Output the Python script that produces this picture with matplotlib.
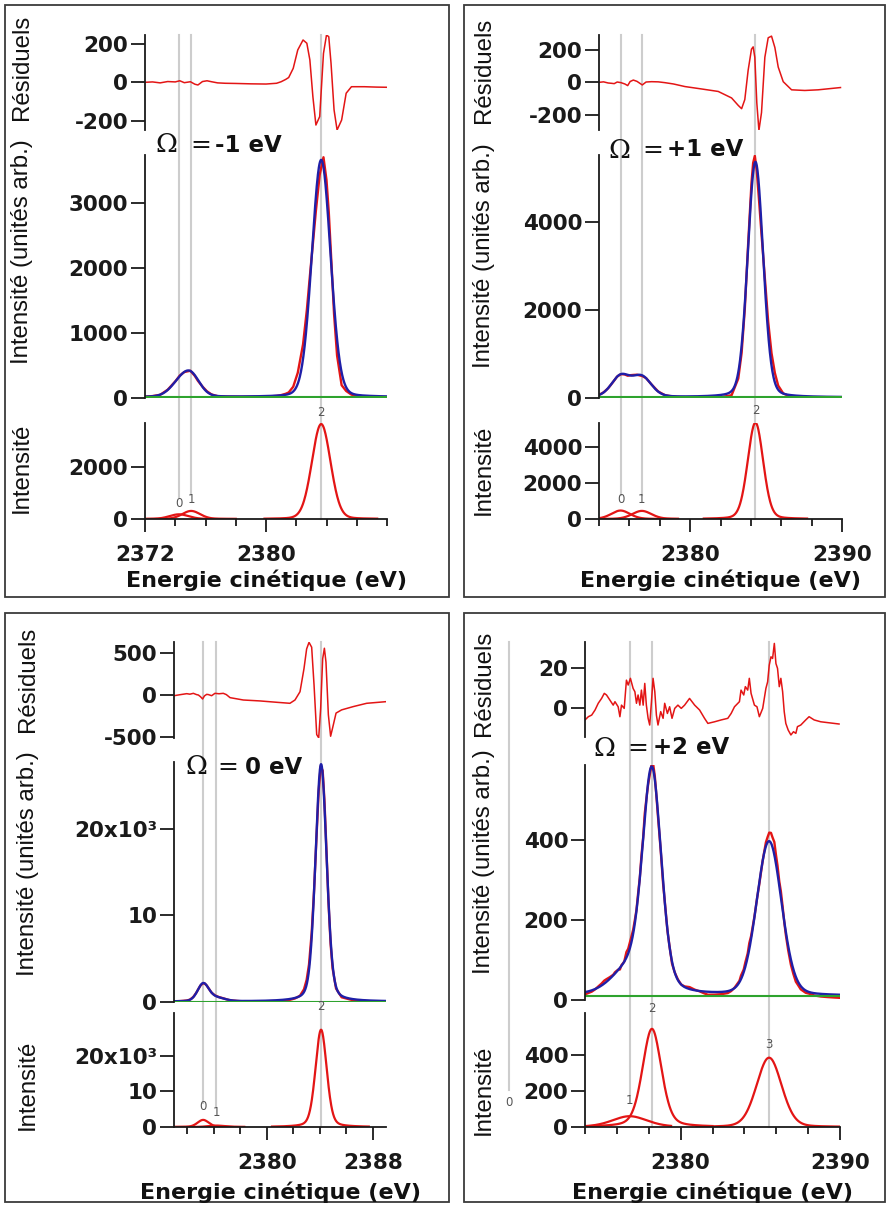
import numpy as np
import matplotlib
matplotlib.use("Agg")
import matplotlib.pyplot as plt
from matplotlib.lines import Line2D
from matplotlib.patches import Rectangle

# ============================ DATA ============================
# ---- Panel A : Omega = -1 eV
a_omega = "-1 eV"
a_res_E = [2372.0, 2372.5, 2373.0, 2373.5, 2374.0, 2374.3, 2374.6, 2375.0, 2375.3, 2375.5,
           2375.8, 2376.1, 2376.4, 2376.8, 2377.3, 2378.0, 2379.0, 2380.0, 2380.7, 2381.0,
           2381.3, 2381.5, 2381.8, 2382.1, 2382.45, 2382.7, 2382.9, 2383.1, 2383.3, 2383.55,
           2383.8, 2384.0, 2384.15, 2384.3, 2384.5, 2384.7, 2385.0, 2385.3, 2385.65, 2386.5,
           2387.3, 2388.0]
a_res_v = [0, 2, -3, 4, 2, 8, -2, 3, -10, -14, 4, 8, 3, -3, -5, -6, -8, -9, -5, 3,
           15, 25, 73, 169, 221, 204, 117, -75, -223, -179, 151, 247, 238, 99, -144, -249,
           -197, -57, -23, -23, -25, -26]
a_ref_ids = ["0", "1", "2"]
a_ref_E = [2374.25, 2375.05, 2383.65]
a_peak_E = [2374.25, 2375.05, 2383.65]
a_peak_h = [180, 310, 3650]
a_peak_w = [1.5, 1.4, 1.45]
a_peak_eta = [0.15, 0.15, 0.1]
a_peak_lo = [2372.0, 2372.0, 2379.9]
a_peak_hi = [2378.0, 2378.0, 2387.35]
a_baseline = 15
a_res_ticks = [-200, 0, 200]
a_res_ticklabels = ["-200", "0", "200"]
a_mid_ticks = [0, 1000, 2000, 3000]
a_mid_ticklabels = ["0", "1000", "2000", "3000"]
a_bot_ticks = [0, 2000]
a_bot_ticklabels = ["0", "2000"]
a_x_major = [2372, 2380]
a_x_minor = [2372, 2374, 2376, 2378, 2380, 2382, 2384, 2386, 2388]

# ---- Panel B : Omega = +1 eV
b_omega = "+1 eV"
b_res_E = [2374.0, 2374.3, 2374.6, 2374.83, 2375.0, 2375.2, 2375.45, 2375.7, 2375.89, 2376.05,
           2376.26, 2376.5, 2376.85, 2377.1, 2377.46, 2377.9, 2378.34, 2378.9, 2379.66, 2380.7,
           2381.85, 2382.73, 2383.17, 2383.39, 2383.6, 2383.82, 2384.04, 2384.15, 2384.26, 2384.39,
           2384.53, 2384.7, 2384.92, 2385.14, 2385.36, 2385.58, 2385.8, 2386.13, 2386.68, 2387.55,
           2388.43, 2389.9]
b_res_v = [0, 3, -4, -6, -8, 2, -2, -10, -20, 5, 14, 6, -16, 2, 4, 3, -2, -10, -26, -40,
           -56, -96, -142, -162, -106, 74, 204, 218, 154, -126, -296, -186, 154, 274, 284, 214,
           94, 4, -46, -50, -46, -32]
b_ref_ids = ["0", "1", "2"]
b_ref_E = [2375.42, 2376.82, 2384.3]
b_peak_E = [2375.42, 2376.82, 2384.3]
b_peak_h = [470, 450, 5350]
b_peak_w = [1.45, 1.5, 1.2]
b_peak_eta = [0.2, 0.2, 0.15]
b_peak_lo = [2374.0, 2374.0, 2380.9]
b_peak_hi = [2379.2, 2379.2, 2387.7]
b_baseline = 15
b_res_ticks = [-200, 0, 200]
b_res_ticklabels = ["-200", "0", "200"]
b_mid_ticks = [0, 2000, 4000]
b_mid_ticklabels = ["0", "2000", "4000"]
b_bot_ticks = [0, 2000, 4000]
b_bot_ticklabels = ["0", "2000", "4000"]
b_x_major = [2380, 2390]
b_x_minor = [2374, 2376, 2378, 2380, 2382, 2384, 2386, 2388, 2390]

# ---- Panel C : Omega = 0 eV
c_omega = "0 eV"
c_res_E = [2373.0, 2373.5, 2373.96, 2374.2, 2374.46, 2374.7, 2374.84, 2375.0, 2375.16, 2375.3,
           2375.47, 2375.6, 2375.84, 2376.09, 2376.4, 2376.72, 2376.95, 2377.23, 2378.23, 2379.49,
           2380.75, 2381.75, 2382.13, 2382.51, 2382.81, 2383.01, 2383.19, 2383.39, 2383.57, 2383.77,
           2383.92, 2384.07, 2384.22, 2384.35, 2384.47, 2384.65, 2384.82, 2384.97, 2385.23, 2385.65,
           2386.53, 2387.54, 2389.05]
c_res_v = [-8, 5, 16, 10, 20, 5, 0, -20, -47, -10, 8, 5, -8, 20, 15, 20, 5, -31, -59, -70,
           -86, -98, -59, 39, 312, 546, 624, 566, 117, -468, -507, -156, 429, 554, 390, -234,
           -488, -390, -214, -176, -137, -98, -78]
c_ref_ids = ["0", "1", "2"]
c_ref_E = [2375.2, 2376.2, 2384.1]
c_peak_E = [2375.2, 2376.2, 2384.1]
c_peak_h = [2000, 400, 27400]
c_peak_w = [1.0, 1.5, 1.0]
c_peak_eta = [0.2, 0.2, 0.25]
c_peak_lo = [2373.0, 2373.0, 2380.4]
c_peak_hi = [2378.3, 2378.3, 2387.7]
c_baseline = 50
c_res_ticks = [-500, 0, 500]
c_res_ticklabels = ["-500", "0", "500"]
c_mid_ticks = [0, 10000, 20000]
c_mid_ticklabels = ["0", "10", "20x10\u00b3"]
c_bot_ticks = [0, 10000, 20000]
c_bot_ticklabels = ["0", "10", "20x10\u00b3"]
c_x_major = [2380, 2388]
c_x_minor = [2374, 2376, 2378, 2380, 2382, 2384, 2386, 2388]

# ---- Panel D : Omega = +2 eV
d_omega = "+2 eV"
d_res_E = [2374.0, 2374.21, 2374.42, 2374.63, 2374.83, 2375.04, 2375.21, 2375.35, 2375.56, 2375.77,
           2375.88, 2376.08, 2376.19, 2376.29, 2376.46, 2376.6, 2376.71, 2376.85, 2377.02, 2377.13,
           2377.23, 2377.33, 2377.44, 2377.54, 2377.65, 2377.75, 2377.85, 2377.96, 2378.06, 2378.17,
           2378.27, 2378.38, 2378.48, 2378.58, 2378.75, 2378.9, 2379.0, 2379.17, 2379.31, 2379.46,
           2379.63, 2379.83, 2380.04, 2380.25, 2380.56, 2380.88, 2381.19, 2381.5, 2381.71, 2382.13,
           2382.54, 2382.96, 2383.17, 2383.38, 2383.69, 2383.79, 2383.96, 2384.06, 2384.21, 2384.31,
           2384.42, 2384.63, 2384.79, 2384.94, 2385.15, 2385.35, 2385.46, 2385.56, 2385.67, 2385.77,
           2385.88, 2385.98, 2386.08, 2386.19, 2386.29, 2386.4, 2386.5, 2386.6, 2386.75, 2386.92,
           2387.08, 2387.23, 2387.33, 2387.54, 2387.85, 2388.06, 2388.38, 2388.79, 2389.21, 2389.63,
           2389.94]
d_res_v = [-5.7, -4.1, -3.3, -0.8, 2.5, 4.9, 7.4, 6.6, 4.1, 1.6,
           3.3, 0.8, -4.1, 1.6, 0.0, 13.9, 11.5, 14.8, 9.8, 8.2,
           2.5, 6.6, 1.6, 9.0, 1.6, 12.3, 1.6, -4.9, -8.2, 3.3,
           14.8, 8.2, -3.3, -8.2, -1.6, -4.9, 2.5, -2.5, 0.8, -4.9,
           0.0, 1.6, 0.0, 1.6, 4.9, 1.6, -0.8, -4.9, -7.4, -6.6,
           -5.7, -4.9, -2.5, 0.8, 3.3, 9.0, 6.6, 10.7, 9.0, 14.8,
           7.4, 1.6, 0.8, -4.1, 0.0, 9.8, 13.1, 21.3, 25.4, 24.6,
           32.0, 22.1, 19.7, 10.7, 14.8, 8.2, -1.6, -7.4, -10.7, -13.1,
           -11.5, -12.3, -9.0, -8.2, -5.7, -4.1, -5.7, -6.6, -7.0, -7.4,
           -7.7]
d_ref_ids = ["0", "1", "2", "3"]
d_ref_E = [2369.2, 2376.8, 2378.2, 2385.55]
d_peak_E = [2376.8, 2378.2, 2385.55]
d_peak_h = [60, 545, 385]
d_peak_w = [2.6, 1.4, 1.85]
d_peak_eta = [0.3, 0.3, 0.15]
d_peak_lo = [2374.0, 2374.0, 2381.0]
d_peak_hi = [2379.4, 2382.0, 2390.0]
d_baseline = 10
d_res_ticks = [0, 20]
d_res_ticklabels = ["0", "20"]
d_mid_ticks = [0, 200, 400]
d_mid_ticklabels = ["0", "200", "400"]
d_bot_ticks = [0, 200, 400]
d_bot_ticklabels = ["0", "200", "400"]
d_x_major = [2380, 2390]
d_x_minor = [2374, 2376, 2378, 2380, 2382, 2384, 2386, 2388, 2390]

# ============================ LAYOUT (pixels) ============================
W, H = 888, 1205
plt.rcParams["font.family"] = ["DejaVu Sans"]
plt.rcParams["axes.unicode_minus"] = False
fig = plt.figure(figsize=(W / 100, H / 100), dpi=100)

RED = "#e31515"
BLUE = "#1f1fa8"
GREEN = "#2ea32e"
GREY = "#cdcdcd"
AXC = "#1a1a1a"

panels = [
    dict(omega=a_omega, resE=a_res_E, resv=a_res_v, refid=a_ref_ids, refE=a_ref_E,
         pE=a_peak_E, ph=a_peak_h, pw=a_peak_w, peta=a_peak_eta, plo=a_peak_lo, phi=a_peak_hi,
         base=a_baseline, rt=a_res_ticks, rtl=a_res_ticklabels, mt=a_mid_ticks, mtl=a_mid_ticklabels,
         bt=a_bot_ticks, btl=a_bot_ticklabels, xmaj=a_x_major, xmin=a_x_minor,
         xlim=(2372, 2388), x0=145, x1=387, res=(35, 130), rylim=(-249, 247),
         mid=(155, 398), mtop=3740, bot=(423, 519), btop=3690,
         box=(5, 449, 5, 597), ylab_x=22, ylab_y=(67, 252, 468),
         om=(155, 190, 215, 145), xlab_y=580,
         line_end=[497, 494, 519], lab_y=[503, 499, 412]),
    dict(omega=b_omega, resE=b_res_E, resv=b_res_v, refid=b_ref_ids, refE=b_ref_E,
         pE=b_peak_E, ph=b_peak_h, pw=b_peak_w, peta=b_peak_eta, plo=b_peak_lo, phi=b_peak_hi,
         base=b_baseline, rt=b_res_ticks, rtl=b_res_ticklabels, mt=b_mid_ticks, mtl=b_mid_ticklabels,
         bt=b_bot_ticks, btl=b_bot_ticklabels, xmaj=b_x_major, xmin=b_x_minor,
         xlim=(2374, 2390), x0=599, x1=842, res=(35, 130), rylim=(-293, 291),
         mid=(155, 398), mtop=5523, bot=(423, 519), btop=5330,
         box=(464, 885, 5, 597), ylab_x=484, ylab_y=(70, 256, 470),
         om=(608, 642, 667, 150), xlab_y=580,
         line_end=[495, 495, 519], lab_y=[499, 499, 411]),
    dict(omega=c_omega, resE=c_res_E, resv=c_res_v, refid=c_ref_ids, refE=c_ref_E,
         pE=c_peak_E, ph=c_peak_h, pw=c_peak_w, peta=c_peak_eta, plo=c_peak_lo, phi=c_peak_hi,
         base=c_baseline, rt=c_res_ticks, rtl=c_res_ticklabels, mt=c_mid_ticks, mtl=c_mid_ticklabels,
         bt=c_bot_ticks, btl=c_bot_ticklabels, xmaj=c_x_major, xmin=c_x_minor,
         xlim=(2373, 2389), x0=174, x1=386, res=(642, 738), rylim=(-509, 628),
         mid=(762, 1002), mtop=27700, bot=(1013, 1127), btop=32100,
         box=(5, 449, 613, 1202), ylab_x=28, ylab_y=(679, 864, 1085),
         om=(185, 217, 245, 767), xlab_y=1192,
         line_end=[1103, 1106, 1127], lab_y=[1107, 1113, 1006]),
    dict(omega=d_omega, resE=d_res_E, resv=d_res_v, refid=d_ref_ids, refE=d_ref_E,
         pE=d_peak_E, ph=d_peak_h, pw=d_peak_w, peta=d_peak_eta, plo=d_peak_lo, phi=d_peak_hi,
         base=d_baseline, rt=d_res_ticks, rtl=d_res_ticklabels, mt=d_mid_ticks, mtl=d_mid_ticklabels,
         bt=d_bot_ticks, btl=d_bot_ticklabels, xmaj=d_x_major, xmin=d_x_minor,
         xlim=(2374, 2390), x0=585, x1=840, res=(642, 737), rylim=(-14.1, 32.7),
         mid=(765, 1000), mtop=587, bot=(1013, 1127), btop=633,
         box=(464, 885, 613, 1202), ylab_x=484, ylab_y=(683, 862, 1090),
         om=(593, 627, 653, 748), xlab_y=1192,
         line_end=[1090, 1095, 1127, 1127], lab_y=[1103, 1100, 1008, 1045]),
]


def profile(x, c, h, w, eta):
    u = (np.asarray(x, float) - c) / w
    return h * (eta / (1 + 4 * u ** 2) + (1 - eta) * np.exp(-4 * np.log(2) * u ** 2))


def fit_curve(x, p):
    y = np.full(np.shape(x), float(p["base"]))
    for c, h, w, eta in zip(p["pE"], p["ph"], p["pw"], p["peta"]):
        y = y + profile(x, c, h, w, eta)
    return y


def add_ax(x0, x1, y0, y1):
    ax = fig.add_axes([x0 / W, 1 - y1 / H, (x1 - x0) / W, (y1 - y0) / H])
    ax.set_facecolor("none")
    for s in ["top", "right"]:
        ax.spines[s].set_visible(False)
    ax.spines["left"].set_linewidth(1.3)
    ax.spines["left"].set_color(AXC)
    ax.spines["bottom"].set_linewidth(1.3)
    ax.spines["bottom"].set_color(AXC)
    ax.tick_params(axis="y", direction="out", length=10, width=1.3, pad=2,
                   labelsize=15.5, colors=AXC)
    return ax


def set_yticks(ax, ticks, labels):
    ax.set_yticks(ticks)
    ax.set_yticklabels(labels, fontweight="bold", fontsize=15.5)


for p in panels:
    x0, x1 = p["x0"], p["x1"]
    # frame
    bx0, bx1, by0, by1 = p["box"]
    fig.add_artist(Rectangle((bx0 / W, 1 - by1 / H), (bx1 - bx0) / W, (by1 - by0) / H,
                             transform=fig.transFigure, fill=False, lw=1.3,
                             ec="#3a3a3a", zorder=-5))

    # residuals
    axr = add_ax(x0, x1, *p["res"])
    axr.plot(p["resE"], p["resv"], color=RED, lw=1.1)
    axr.set_xlim(*p["xlim"])
    axr.set_ylim(*p["rylim"])
    axr.spines["bottom"].set_visible(False)
    axr.tick_params(axis="x", bottom=False, labelbottom=False)
    set_yticks(axr, p["rt"], p["rtl"])

    # middle: data, fit, baseline
    axm = add_ax(x0, x1, *p["mid"])
    xg = np.linspace(p["xlim"][0], p["xlim"][1], 800)
    resE = np.asarray(p["resE"], float)
    data_y = fit_curve(resE, p) + np.asarray(p["resv"], float)
    axm.plot(resE, data_y, color=RED, lw=1.7)
    axm.plot(xg, fit_curve(xg, p), color=BLUE, lw=1.7)
    axm.plot(list(p["xlim"]), [p["base"], p["base"]], color=GREEN, lw=1.5)
    axm.set_xlim(*p["xlim"])
    axm.set_ylim(0, p["mtop"])
    axm.spines["bottom"].set_visible(False)
    axm.tick_params(axis="x", bottom=False, labelbottom=False)
    set_yticks(axm, p["mt"], p["mtl"])

    # bottom: components
    axb = add_ax(x0, x1, *p["bot"])
    for c, h, w, eta, lo, hi in zip(p["pE"], p["ph"], p["pw"], p["peta"], p["plo"], p["phi"]):
        xs = np.linspace(lo, hi, 300)
        axb.plot(xs, profile(xs, c, h, w, eta), color=RED, lw=1.6)
    axb.set_xlim(*p["xlim"])
    axb.set_ylim(0, p["btop"])
    set_yticks(axb, p["bt"], p["btl"])
    axb.set_xticks(p["xmaj"])
    axb.set_xticklabels([str(v) for v in p["xmaj"]], fontweight="bold", fontsize=15.5)
    axb.set_xticks(p["xmin"], minor=True)
    axb.tick_params(axis="x", which="major", direction="out", length=9.5, width=1.3,
                    pad=9.5, colors=AXC)
    axb.tick_params(axis="x", which="minor", direction="out", length=5, width=1.3, colors=AXC)

    # grey reference lines and component labels
    for rid, e, yend, ly in zip(p["refid"], p["refE"], p["line_end"], p["lab_y"]):
        xd = axb.transData.transform((e, 0))[0]
        xf = xd / fig.bbox.width
        fig.add_artist(Line2D([xf, xf], [1 - p["res"][0] / H, 1 - yend / H],
                              transform=fig.transFigure, color=GREY, lw=1.5, zorder=-3))
        fig.text(xf, 1 - ly / H, rid, ha="center", va="center", fontsize=8.5,
                 color="#555555")

    # Omega label
    ox_om, ox_eq, ox_val, oy = p["om"]
    fig.text(ox_om / W, 1 - oy / H, "\u03a9", fontsize=19, family="DejaVu Serif",
             ha="left", va="center", color="#111111")
    fig.text(ox_eq / W, 1 - oy / H, "=", fontsize=18, ha="left", va="center",
             color="#111111")
    fig.text(ox_val / W, 1 - oy / H, p["omega"], fontsize=16.5, fontweight="bold",
             ha="left", va="center", color="#111111")

    # axis labels
    fig.text((x0 + x1) / 2 / W, 1 - p["xlab_y"] / H, "Energie cinétique (eV)",
             fontsize=16, fontweight="bold", ha="center", va="center", color="#111111")
    for txt, yy in zip(["Résiduels", "Intensité (unités arb.)", "Intensité"], p["ylab_y"]):
        fig.text(p["ylab_x"] / W, 1 - yy / H, txt, rotation=90, fontsize=17.3,
                 family="Liberation Sans", ha="center", va="center", color="#111111")

fig.savefig("out.png", dpi=100)
